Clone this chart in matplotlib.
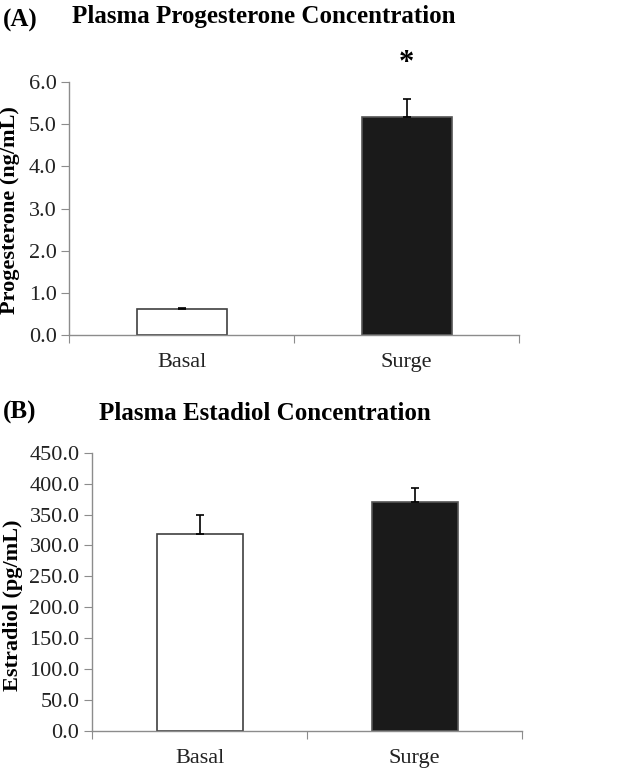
import matplotlib
matplotlib.use("Agg")
import matplotlib.pyplot as plt
import numpy as np

plt.rcParams["font.family"] = ["Liberation Serif", "DejaVu Serif"]

CATEGORIES = ["Basal", "Surge"]
PROG_MEAN = [0.62, 5.17]
PROG_ERR = [0.02, 0.43]
ESTR_MEAN = [318.0, 369.5]
ESTR_ERR = [31.0, 23.5]
PROG_TICKS = [0.0, 1.0, 2.0, 3.0, 4.0, 5.0, 6.0]
ESTR_TICKS = [0, 50, 100, 150, 200, 250, 300, 350, 400, 450]

FILLS = ["white", "#1a1a1a"]
EDGES = ["#404040", "#555555"]
AXIS_GREY = "#8c8c8c"
TICK_FS = 16

W, H = 630, 771
fig = plt.figure(figsize=(W / 100, H / 100), dpi=100)


def px_box(x0, y0, x1, y1):
    return [x0 / W, 1 - y1 / H, (x1 - x0) / W, (y1 - y0) / H]


def panel(box, means, errs, ticks, fmt):
    ax = fig.add_axes(box)
    x = np.arange(len(means))
    ax.bar(x, means, width=0.4, color=FILLS, edgecolor=EDGES, linewidth=1.2, zorder=2)
    ax.errorbar(x, means, yerr=[np.zeros(len(errs)), errs], fmt="none",
                ecolor="black", elinewidth=1.2, capsize=3, capthick=1.2, zorder=3)
    ax.set_xlim(-0.5, len(means) - 0.5)
    ax.set_ylim(ticks[0], ticks[-1])
    ax.set_yticks(ticks)
    ax.set_yticklabels([fmt.format(t) for t in ticks], fontsize=TICK_FS, color="#222222")
    ax.set_xticks(np.arange(len(means) + 1) - 0.5)
    ax.set_xticklabels([])
    ax.set_xticks(x, minor=True)
    ax.set_xticklabels(CATEGORIES, minor=True, fontsize=TICK_FS, color="#222222")
    ax.tick_params(axis="x", which="minor", length=0, pad=13)
    ax.tick_params(axis="x", which="major", length=6, color=AXIS_GREY, direction="out")
    ax.tick_params(axis="y", length=6, color=AXIS_GREY, direction="out", pad=3)
    for side in ["top", "right"]:
        ax.spines[side].set_visible(False)
    for side in ["left", "bottom"]:
        ax.spines[side].set_color(AXIS_GREY)
        ax.spines[side].set_linewidth(1.0)
    return ax


ax_a = panel(px_box(69, 82, 519, 335), PROG_MEAN, PROG_ERR, PROG_TICKS, "{:.1f}")
ax_a.text(1, 6.45, "*", ha="center", va="center", fontsize=22, fontweight="bold")

ax_b = panel(px_box(92, 452.7, 522, 731), ESTR_MEAN, ESTR_ERR, ESTR_TICKS, "{:.1f}")

fig.text(3 / W, 1 - 20 / H, "(A)", fontsize=18, fontweight="bold", va="center", ha="left")
fig.text(264 / W, 1 - 17 / H, "Plasma Progesterone Concentration", fontsize=18,
         fontweight="bold", va="center", ha="center")
fig.text(10 / W, 1 - 210 / H, "Progesterone (ng/mL)", fontsize=16, fontweight="bold",
         rotation=90, va="center", ha="center")

fig.text(3 / W, 1 - 412 / H, "(B)", fontsize=18, fontweight="bold", va="center", ha="left")
fig.text(265 / W, 1 - 414 / H, "Plasma Estadiol Concentration", fontsize=18,
         fontweight="bold", va="center", ha="center")
fig.text(13 / W, 1 - 605 / H, "Estradiol (pg/mL)", fontsize=16, fontweight="bold",
         rotation=90, va="center", ha="center")

fig.savefig("out.png", dpi=100)
